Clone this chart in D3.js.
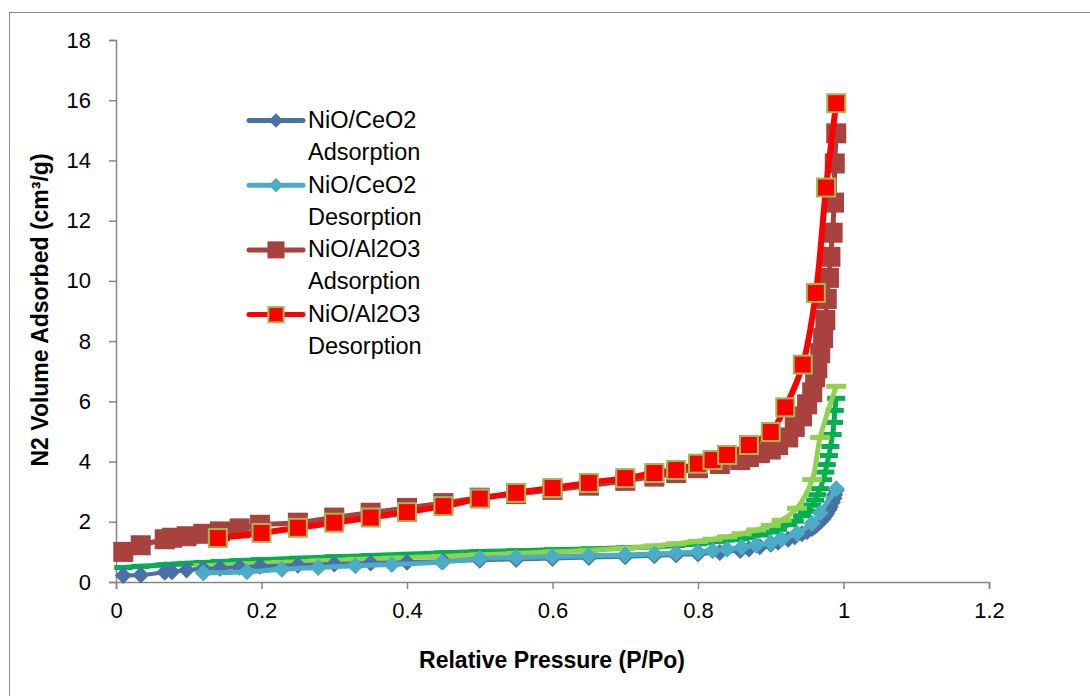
<!DOCTYPE html>
<html>
<head>
<meta charset="utf-8">
<script src="https://cdn.jsdelivr.net/npm/d3@7"></script>
<style>
  body { margin: 0; background: #fff; }
  svg { font-family: "Liberation Sans", Arial, sans-serif; }
</style>
</head>
<body>
<div id="chart"></div>
<script>
// relative pressure points (adsorption branch, shared by the three samples)
var adsP = [0.01, 0.034, 0.067, 0.077, 0.097, 0.12, 0.143, 0.17, 0.198, 0.25, 0.3, 0.35, 0.4, 0.45, 0.5,
  0.55, 0.6, 0.65, 0.7, 0.74, 0.77, 0.8, 0.83, 0.858, 0.87, 0.885, 0.9, 0.91, 0.924, 0.933, 0.943,
  0.95, 0.957, 0.961, 0.964, 0.968, 0.972, 0.975, 0.977, 0.98, 0.982, 0.985, 0.987, 0.988, 0.99];

var ceo2Ads = [0.22, 0.23, 0.32, 0.34, 0.4, 0.43, 0.46, 0.49, 0.52, 0.56, 0.6, 0.63, 0.66, 0.69, 0.72,
  0.75, 0.78, 0.81, 0.84, 0.87, 0.9, 0.93, 0.98, 1.05, 1.1, 1.17, 1.25, 1.32, 1.42, 1.5, 1.6,
  1.68, 1.78, 1.85, 1.92, 2.0, 2.1, 2.2, 2.28, 2.4, 2.5, 2.65, 2.78, 2.9, 3.05];

var al2o3Ads = [1.0, 1.22, 1.42, 1.47, 1.52, 1.6, 1.68, 1.78, 1.9, 1.97, 2.14, 2.3, 2.46, 2.62, 2.8,
  2.92, 3.06, 3.2, 3.36, 3.5, 3.62, 3.78, 3.92, 4.05, 4.15, 4.28, 4.4, 4.55, 4.8, 5.15, 5.5,
  5.9, 6.3, 6.8, 7.1, 7.6, 8.1, 8.7, 9.4, 10.1, 10.8, 11.6, 12.6, 13.9, 14.9];

var greenAds = [0.48, 0.52, 0.57, 0.59, 0.62, 0.65, 0.68, 0.71, 0.74, 0.79, 0.84, 0.88, 0.92, 0.97, 1.01,
  1.04, 1.07, 1.1, 1.14, 1.17, 1.21, 1.27, 1.35, 1.43, 1.48, 1.56, 1.66, 1.75, 1.9, 2.02, 2.2,
  2.35, 2.55, 2.72, 2.9, 3.1, 3.4, 3.65, 3.9, 4.2, 4.5, 4.9, 5.3, 5.7, 6.1];

// desorption branch
var ceo2DesP = [0.12, 0.18, 0.228, 0.278, 0.329, 0.379, 0.448, 0.5, 0.55, 0.6, 0.65, 0.7, 0.74, 0.77,
  0.8, 0.82, 0.84, 0.86, 0.88, 0.9, 0.915, 0.936, 0.957, 0.968, 0.99];
var ceo2Des = [0.3, 0.34, 0.42, 0.48, 0.54, 0.58, 0.66, 0.78, 0.81, 0.84, 0.87, 0.9, 0.93, 0.96,
  1.0, 1.04, 1.09, 1.15, 1.22, 1.3, 1.42, 1.62, 1.95, 2.3, 3.1];
var greenDes = [0.54, 0.6, 0.65, 0.7, 0.75, 0.79, 0.85, 0.9, 0.95, 1.0, 1.05, 1.12, 1.2, 1.27,
  1.35, 1.42, 1.5, 1.6, 1.73, 1.88, 2.05, 2.45, 3.4, 4.8, 6.5];

var al2o3DesP = [0.14, 0.2, 0.25, 0.3, 0.35, 0.4, 0.45, 0.5, 0.55, 0.6, 0.65, 0.7, 0.74, 0.77, 0.8,
  0.82, 0.84, 0.87, 0.9, 0.92, 0.944, 0.962, 0.976, 0.99];
var al2o3Des = [1.46, 1.63, 1.8, 1.97, 2.14, 2.32, 2.52, 2.77, 2.96, 3.12, 3.29, 3.45, 3.62, 3.72, 3.93,
  4.05, 4.22, 4.55, 4.98, 5.8, 7.22, 9.6, 13.1, 15.9];

var xTicks = [0, 0.2, 0.4, 0.6, 0.8, 1, 1.2];
var yTicks = [0, 2, 4, 6, 8, 10, 12, 14, 16, 18];

var width = 1090,
    height = 696;

var svg = d3.select("#chart").append("svg")
    .attr("width", width)
    .attr("height", height);

// chart frame
svg.append("rect")
    .attr("x", 9.5).attr("y", 12.5)
    .attr("width", 1100).attr("height", 700)
    .attr("fill", "none")
    .attr("stroke", "#888")
    .attr("stroke-width", 1);

var x = d3.scaleLinear().domain([0, 1.2]).range([116, 989]);
var y = d3.scaleLinear().domain([0, 18]).range([582, 40]);

var xAxis = svg.append("g")
    .attr("transform", "translate(0,582)")
    .call(d3.axisBottom(x).tickValues(xTicks).tickSize(7).tickPadding(13)
      .tickFormat(function(d) { return d3.format("")(d); }));

var yAxis = svg.append("g")
    .attr("transform", "translate(116,0)")
    .call(d3.axisLeft(y).tickValues(yTicks).tickSize(7).tickPadding(18));

[xAxis, yAxis].forEach(function(a) {
  a.select(".domain").attr("stroke", "#868686").attr("stroke-width", 1.5);
  a.selectAll(".tick line").attr("stroke", "#868686").attr("stroke-width", 1.5);
  a.selectAll(".tick text").attr("fill", "#000").style("font-size", "22px")
    .style("font-family", "'Liberation Sans', Arial, sans-serif");
});

// axis titles
svg.append("text")
    .attr("x", 552).attr("y", 668)
    .attr("text-anchor", "middle")
    .style("font-size", "23px").style("font-weight", "bold")
    .text("Relative Pressure (P/Po)");

svg.append("text")
    .attr("transform", "translate(48,310) rotate(-90)")
    .attr("text-anchor", "middle")
    .style("font-size", "23px").style("font-weight", "bold")
    .text("N2 Volume Adsorbed (cm³/g)");

function zip(px, py) {
  return px.map(function(p, i) { return [p, py[i]]; });
}

var line = d3.line()
    .x(function(d) { return x(d[0]); })
    .y(function(d) { return y(d[1]); })
    .curve(d3.curveCatmullRom);

function diamond(r) {
  return "M0," + (-r) + "L" + r + ",0L0," + r + "L" + (-r) + ",0Z";
}

var series = [
  { name: "green ads", data: zip(adsP, greenAds), color: "#00B050", lw: 5, marker: "dash", mfill: "#00B050", w: 9, h: 2.5 },
  { name: "green des", data: zip(ceo2DesP, greenDes), color: "#92D050", lw: 5, marker: "dash", mfill: "#92D050", w: 10, h: 2.5 },
  { name: "NiO/CeO2 Adsorption", data: zip(adsP, ceo2Ads), color: "#4A70A8", lw: 4, marker: "diamond", mfill: "#4A70A8", r: 8.5 },
  { name: "NiO/CeO2 Desorption", data: zip(ceo2DesP, ceo2Des), color: "#4BACC6", lw: 5, marker: "diamond", mfill: "#4BACC6", r: 8.5 },
  { name: "NiO/Al2O3 Adsorption", data: zip(adsP, al2o3Ads), color: "#A8423F", lw: 5, marker: "square", mfill: "#A8423F", r: 10 },
  { name: "NiO/Al2O3 Desorption", data: zip(al2o3DesP, al2o3Des), color: "#FF0000", lw: 6, marker: "square", mfill: "#FF0000", stroke: "#9BBB59", r: 9 }
];

function drawMarker(g, s, size) {
  if (s.marker === "diamond") {
    g.append("path").attr("d", diamond(s.r * size)).attr("fill", s.mfill);
  } else if (s.marker === "square") {
    var r = s.r * size;
    g.append("rect").attr("x", -r).attr("y", -r).attr("width", 2 * r).attr("height", 2 * r)
      .attr("fill", s.mfill)
      .attr("stroke", s.stroke || "none")
      .attr("stroke-width", s.stroke ? 2 : 0);
  } else {
    g.append("rect").attr("x", -s.w).attr("y", -s.h).attr("width", 2 * s.w).attr("height", 2 * s.h)
      .attr("fill", s.mfill);
  }
}

series.forEach(function(s) {
  var g = svg.append("g").attr("class", "series");
  g.append("path")
      .datum(s.data)
      .attr("fill", "none")
      .attr("stroke", s.color)
      .attr("stroke-width", s.lw)
      .attr("stroke-linejoin", "round")
      .attr("d", line);
  g.selectAll("g.pt")
      .data(s.data)
      .enter().append("g")
      .attr("class", "pt")
      .attr("transform", function(d) { return "translate(" + x(d[0]) + "," + y(d[1]) + ")"; })
      .each(function() { drawMarker(d3.select(this), s, 1); });
});

// legend (only the four named series)
var legendItems = series.slice(2);
var legend = svg.append("g").attr("class", "legend");
legendItems.forEach(function(s, i) {
  var base = 128 + i * 64.7;
  var parts = s.name.split(" ");
  var item = legend.append("g");
  item.append("line")
      .attr("x1", 249).attr("x2", 303)
      .attr("y1", base - 7.5).attr("y2", base - 7.5)
      .attr("stroke", s.color)
      .attr("stroke-width", 5)
      .attr("stroke-linecap", "round");
  drawMarker(item.append("g").attr("transform", "translate(276," + (base - 7.5) + ")"), s, 0.85);
  item.append("text").attr("x", 308).attr("y", base)
      .style("font-size", "23.5px").text(parts[0]);
  item.append("text").attr("x", 308).attr("y", base + 32)
      .style("font-size", "23.5px").text(parts[1]);
});
</script>
</body>
</html>
